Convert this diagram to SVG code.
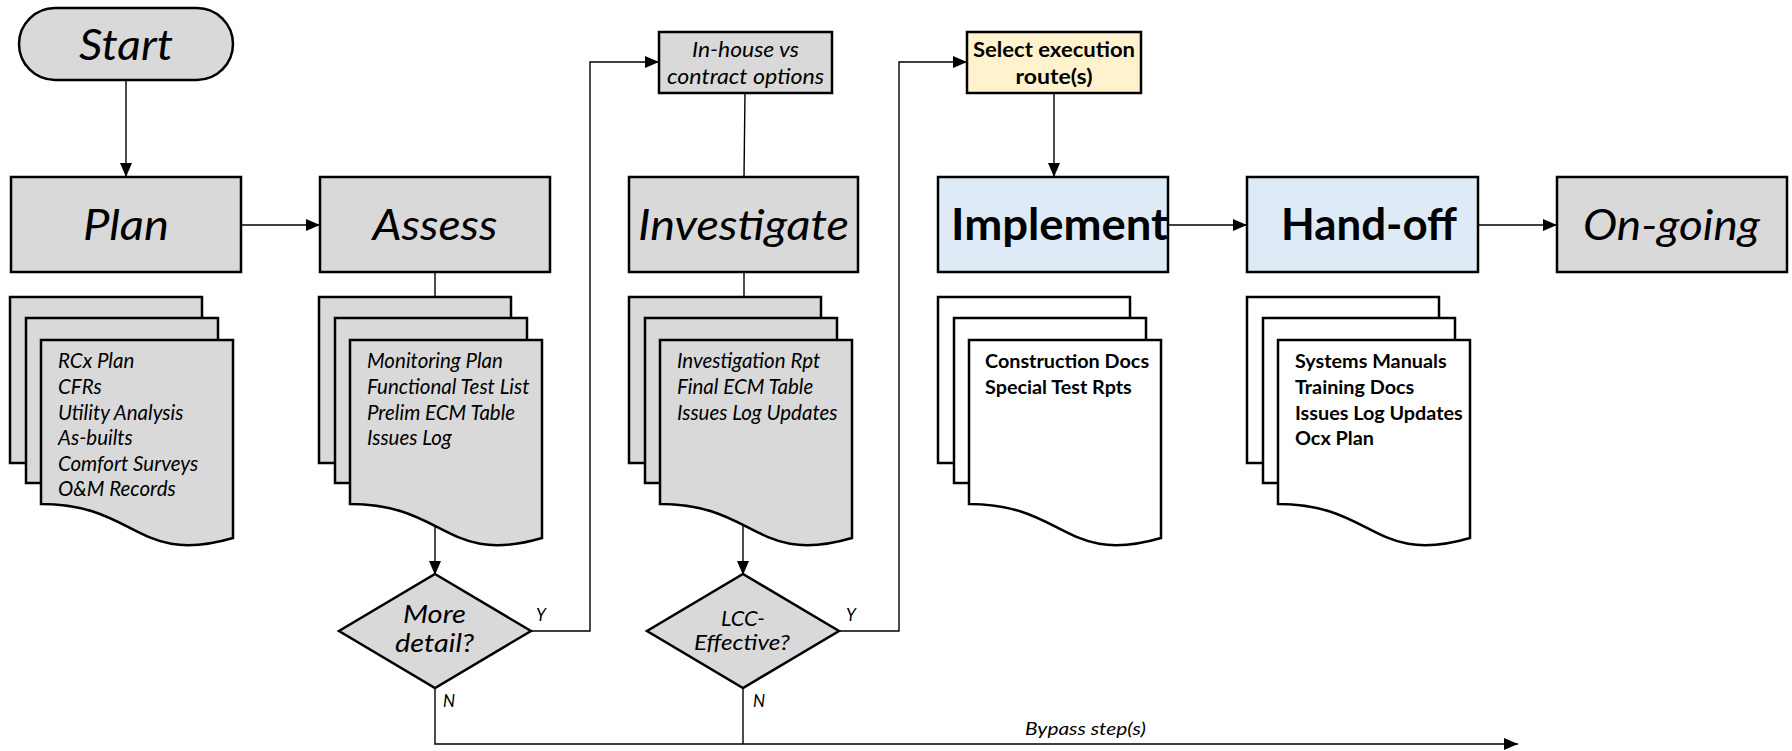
<svg xmlns="http://www.w3.org/2000/svg" width="1792" height="751" viewBox="0 0 1792 751">
<defs>
<style>
.box{stroke:#000;stroke-width:2.5}
.grey{fill:#d9d9d9}
.blue{fill:#deebf7}
.yellow{fill:#fff2cc}
.white{fill:#fff}
.page{stroke:#000;stroke-width:2.5}
.conn{fill:none;stroke:#000;stroke-width:1.4}
text{font-family:Lato,"Open Sans","Liberation Sans",sans-serif;fill:#000}
.it{font-style:italic}
.bd{font-weight:bold}
.title{font-size:43px;text-anchor:middle}
.doc{font-size:20.5px}
.docb{font-size:19.8px;font-weight:bold}
.small{font-size:21px;text-anchor:middle}
.lbl{font-size:17px;font-style:italic}
.dia{text-anchor:middle;font-style:italic}
</style>
<marker id="arr" markerUnits="userSpaceOnUse" markerWidth="14" markerHeight="12" refX="14" refY="6" orient="auto">
<path d="M0,0 L14,6 L0,12 z" fill="#000"/>
</marker>
<g id="stackShape">
<rect x="0" y="297" width="192" height="166"/>
<rect x="16" y="318" width="192" height="165"/>
<path d="M31,340 H223 V538 C127,566 127,504 31,504 Z"/>
</g>
</defs>
<rect width="1792" height="751" fill="#fff"/>

<g id="connectors">
<path class="conn" d="M126,80 V177" marker-end="url(#arr)"/>
<path class="conn" d="M241,225 H320" marker-end="url(#arr)"/>
<path class="conn" d="M435,272 V297"/>
<path class="conn" d="M435,520 V575" marker-end="url(#arr)"/>
<path class="conn" d="M531,631 H590 V62 H659" marker-end="url(#arr)"/>
<path class="conn" d="M745,93 L744,177"/>
<path class="conn" d="M744,272 V297"/>
<path class="conn" d="M743,520 V575" marker-end="url(#arr)"/>
<path class="conn" d="M840,631 H899 V62 H967" marker-end="url(#arr)"/>
<path class="conn" d="M1054,93 V177" marker-end="url(#arr)"/>
<path class="conn" d="M1168,225 H1247" marker-end="url(#arr)"/>
<path class="conn" d="M1478,225 H1557" marker-end="url(#arr)"/>
<path class="conn" d="M435,688 V744 H1518" marker-end="url(#arr)"/>
<path class="conn" d="M743,688 V744"/>
<text class="lbl" x="536" y="621">Y</text>
<text class="lbl" x="846" y="621">Y</text>
<text class="lbl" x="443" y="707">N</text>
<text class="lbl" x="753" y="707">N</text>
<text class="lbl" x="1025" y="735" font-size="18" textLength="121" lengthAdjust="spacingAndGlyphs">Bypass step(s)</text>
</g>

<g id="start">
<rect class="box grey" x="19" y="8" width="214" height="72" rx="36"/>
<text class="title it" x="126" y="60" font-size="46" textLength="94" lengthAdjust="spacingAndGlyphs">Start</text>
</g>

<g id="plan">
<rect class="box grey" x="11" y="177" width="230" height="95"/>
<text class="title it" x="126" y="240" textLength="86" lengthAdjust="spacingAndGlyphs">Plan</text>
</g>
<g id="assess">
<rect class="box grey" x="320" y="177" width="230" height="95"/>
<text class="title it" x="435" y="240" textLength="125" lengthAdjust="spacingAndGlyphs">Assess</text>
</g>
<g id="investigate">
<rect class="box grey" x="629" y="177" width="229" height="95"/>
<text class="title it" x="743.5" y="240" textLength="211" lengthAdjust="spacingAndGlyphs">Investigate</text>
</g>
<g id="implement">
<rect class="box blue" x="938" y="177" width="230" height="95"/>
<text class="title bd" x="1059.5" y="240" font-size="44" textLength="217" lengthAdjust="spacingAndGlyphs">Implement</text>
</g>
<g id="handoff">
<rect class="box blue" x="1247" y="177" width="231" height="95"/>
<text class="title bd" x="1369" y="240" font-size="44" textLength="176" lengthAdjust="spacingAndGlyphs">Hand-off</text>
</g>
<g id="ongoing">
<rect class="box grey" x="1557" y="177" width="230" height="95"/>
<text class="title it" x="1671.5" y="240" textLength="177" lengthAdjust="spacingAndGlyphs">On-going</text>
</g>

<g id="inhouse">
<rect class="box grey" x="659" y="32" width="173" height="61"/>
<text class="small it" x="745.5" y="57" textLength="107" lengthAdjust="spacingAndGlyphs">In-house vs</text>
<text class="small it" x="745.5" y="84" textLength="157" lengthAdjust="spacingAndGlyphs">contract options</text>
</g>
<g id="select">
<rect class="box yellow" x="967" y="32" width="174" height="61"/>
<text class="small bd" x="1054" y="57" textLength="162" lengthAdjust="spacingAndGlyphs">Select execution</text>
<text class="small bd" x="1054" y="84" textLength="77" lengthAdjust="spacingAndGlyphs">route(s)</text>
</g>

<g id="plan-docs">
<use href="#stackShape" x="10" class="page grey"/>
<text class="doc it" x="58" y="368">RCx Plan</text>
<text class="doc it" x="58" y="394">CFRs</text>
<text class="doc it" x="58" y="420">Utility Analysis</text>
<text class="doc it" x="58" y="445">As-builts</text>
<text class="doc it" x="58" y="471">Comfort Surveys</text>
<text class="doc it" x="58" y="496">O&amp;M Records</text>
</g>
<g id="assess-docs">
<use href="#stackShape" x="319" class="page grey"/>
<text class="doc it" x="367" y="368">Monitoring Plan</text>
<text class="doc it" x="367" y="394">Functional Test List</text>
<text class="doc it" x="367" y="420">Prelim ECM Table</text>
<text class="doc it" x="367" y="445">Issues Log</text>
</g>
<g id="investigate-docs">
<use href="#stackShape" x="629" class="page grey"/>
<text class="doc it" x="677" y="368">Investigation Rpt</text>
<text class="doc it" x="677" y="394">Final ECM Table</text>
<text class="doc it" x="677" y="420">Issues Log Updates</text>
</g>
<g id="implement-docs">
<use href="#stackShape" x="938" class="page white"/>
<text class="docb" x="985" y="368">Construction Docs</text>
<text class="docb" x="985" y="394">Special Test Rpts</text>
</g>
<g id="handoff-docs">
<use href="#stackShape" x="1247" class="page white"/>
<text class="docb" x="1295" y="368">Systems Manuals</text>
<text class="docb" x="1295" y="394">Training Docs</text>
<text class="docb" x="1295" y="420">Issues Log Updates</text>
<text class="docb" x="1295" y="445">Ocx Plan</text>
</g>

<g id="more-detail">
<path class="box grey" d="M435,574 L531,631 L435,688 L339,631 Z"/>
<text class="dia" x="434.5" y="623" font-size="26" textLength="63" lengthAdjust="spacingAndGlyphs">More</text>
<text class="dia" x="434.5" y="652" font-size="26" textLength="79" lengthAdjust="spacingAndGlyphs">detail?</text>
</g>
<g id="lcc-effective">
<path class="box grey" d="M743,574 L839,631 L743,688 L647,631 Z"/>
<text class="dia" x="743" y="626" font-size="22" textLength="44" lengthAdjust="spacingAndGlyphs">LCC-</text>
<text class="dia" x="742" y="650" font-size="22" textLength="96" lengthAdjust="spacingAndGlyphs">Effective?</text>
</g>
</svg>
